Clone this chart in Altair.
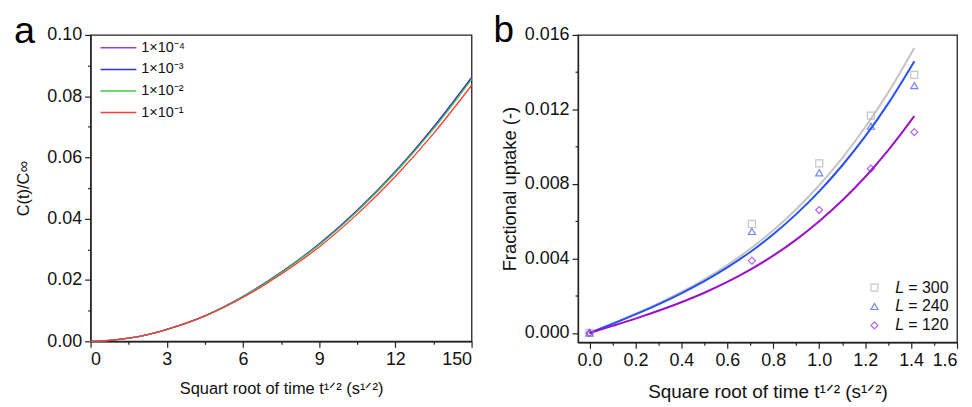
import altair as alt
import pandas as pd

# ---------------- Panel a data ----------------
a_x = [0, 0.75, 1.5, 2.25, 3, 4.5, 6, 7.5, 9, 10.5, 12, 13.5, 15]
a_1e4 = [0, 0.00027, 0.00102, 0.0022, 0.0039, 0.0083, 0.0146, 0.0225, 0.0318, 0.0428, 0.0555, 0.0700, 0.0862]
a_1e3 = [0, 0.00027, 0.00102, 0.0022, 0.0039, 0.0083, 0.0146, 0.0225, 0.0317, 0.0427, 0.0553, 0.0698, 0.0860]
a_1e2 = [0, 0.00027, 0.00102, 0.0022, 0.0039, 0.0083, 0.0145, 0.0224, 0.0315, 0.0424, 0.0550, 0.0693, 0.0855]
a_1e1 = [0, 0.00027, 0.00101, 0.0022, 0.0038, 0.0082, 0.0143, 0.0219, 0.0308, 0.0415, 0.0538, 0.0678, 0.0835]
a_names = ["1×10⁻⁴", "1×10⁻³", "1×10⁻²", "1×10⁻¹"]
a_colors = ["#9440f0", "#3030d8", "#40c840", "#ff3a3a"]

# ---------------- Panel b data ----------------
b_pts_x = [0, 0.707, 1.0, 1.225, 1.414]
b_L300 = [0, 0.00585, 0.0091, 0.01167, 0.01385]
b_L240 = [0, 0.00545, 0.0086, 0.0111, 0.01328]
b_L120 = [0, 0.00388, 0.0066, 0.00882, 0.01078]

b_fit_x = [0, 0.1, 0.2, 0.3, 0.4, 0.5, 0.6, 0.7, 0.8, 0.9, 1.0, 1.1, 1.2, 1.3, 1.414]
b_fit300 = [0, 0.00051, 0.00103, 0.00159, 0.0022, 0.00288, 0.00365, 0.00452, 0.00551, 0.00664, 0.00793, 0.00939, 0.01104, 0.0129, 0.0153]
b_fit240 = [0, 0.00049, 0.0010, 0.00154, 0.00213, 0.00278, 0.00352, 0.00435, 0.0053, 0.00638, 0.0076, 0.00899, 0.01055, 0.01231, 0.01458]
b_fit120 = [0, 0.00038, 0.00077, 0.00119, 0.00165, 0.00216, 0.00274, 0.0034, 0.00415, 0.00501, 0.0060, 0.00711, 0.00837, 0.0098, 0.01164]
b_names = ["300", "240", "120"]
b_line_colors = ["#c4c4c4", "#2451f5", "#9a10c8"]
b_pt_colors = ["#b0b0b0", "#3a50ff", "#a020e0"]
b_shapes = ["square", "triangle-up", "diamond"]

FONT = "Liberation Sans"

# ---------------- build tables ----------------
rows = []
for name, ys in zip(a_names, [a_1e4, a_1e3, a_1e2, a_1e1]):
    for x, y in zip(a_x, ys):
        rows.append({"x": x, "y": y, "series": name})
df_a = pd.DataFrame(rows)

pts = []
for name, ys in zip(b_names, [b_L300, b_L240, b_L120]):
    for x, y in zip(b_pts_x, ys):
        pts.append({"x": x, "y": y, "series": name})
df_bp = pd.DataFrame(pts)

fits = []
for name, ys in zip(b_names, [b_fit300, b_fit240, b_fit120]):
    for x, y in zip(b_fit_x, ys):
        fits.append({"x": x, "y": y, "series": name})
df_bf = pd.DataFrame(fits)


def axis(values, major_test, label_expr, title, title_padding, **kw):
    return alt.Axis(
        values=values,
        labelExpr=label_expr,
        tickSize={"condition": {"test": major_test, "value": 6}, "value": 3},
        title=title,
        titlePadding=title_padding,
        grid=False,
        **kw,
    )


one = pd.DataFrame({"k": [0]})

# ---------------- Panel a ----------------
ax_vals = [i * 1.5 for i in range(11)]
ay_vals = [round(i * 0.01, 2) for i in range(11)]

xa = alt.X(
    "x:Q",
    scale=alt.Scale(domain=[0, 15], nice=False),
    axis=axis(ax_vals, "datum.value % 3 == 0",
              "datum.value == 15 ? '150' : (datum.value % 3 == 0 ? format(datum.value, 'd') : '')",
              "Squart root of time t¹ᐟ² (s¹ᐟ²)", 12, titleFontSize=16.5),
)
ya = alt.Y(
    "y:Q",
    scale=alt.Scale(domain=[0, 0.1], nice=False),
    axis=axis(ay_vals, "round(datum.value * 100) % 2 == 0",
              "round(datum.value * 100) % 2 == 0 ? format(datum.value, '.2f') : ''",
              "C(t)/C∞", 15, titleFontSize=16.5),
)

lines_a = alt.Chart(df_a).mark_line(strokeWidth=1.3, interpolate="monotone").encode(
    x=xa,
    y=ya,
    color=alt.Color("series:N", scale=alt.Scale(domain=a_names, range=a_colors), legend=None),
    order=alt.Order("order:Q"),
).transform_calculate(
    order="indexof(['1×10⁻¹','1×10⁻²','1×10⁻³','1×10⁻⁴'], datum.series)"
)

legend_a = []
for i, (name, col) in enumerate(zip(a_names, a_colors)):
    yy = 13 + 21.7 * i
    legend_a.append(
        alt.Chart(one).mark_rule(color=col, strokeWidth=1.5).encode(
            x=alt.value(10), x2=alt.value(46), y=alt.value(yy)
        )
    )
    legend_a.append(
        alt.Chart(one).mark_text(
            text=name, font=FONT, fontSize=14.5, align="left", baseline="middle", color="#111111"
        ).encode(x=alt.value(51), y=alt.value(yy))
    )

letter_a = alt.Chart(one).mark_text(
    text="a", fontSize=38, font=FONT, align="left", baseline="alphabetic"
).encode(x=alt.value(-77), y=alt.value(8))

panel_a = alt.layer(lines_a, *legend_a, letter_a).properties(width=383, height=308)

# ---------------- Panel b ----------------
bx_vals = [round(i * 0.1, 1) for i in range(17)]
by_vals = [round(i * 0.002, 3) for i in range(9)]

xb = alt.X(
    "x:Q",
    scale=alt.Scale(domain=[-0.05, 1.6], nice=False),
    axis=axis(bx_vals, "round(datum.value * 10) % 2 == 0",
              "round(datum.value * 10) % 2 == 0 ? format(datum.value, '.1f') : ''",
              "Square root of time  t¹ᐟ²  (s¹ᐟ²)", 14, titleFontSize=19),
)
yb = alt.Y(
    "y:Q",
    scale=alt.Scale(domain=[-0.0005, 0.016], nice=False),
    axis=axis(by_vals, "round(datum.value * 1000) % 4 == 0",
              "round(datum.value * 1000) % 4 == 0 ? format(datum.value, '.3f') : ''",
              "Fractional uptake (-)", 5, titleFontSize=18.5),
)

fit_b = alt.Chart(df_bf).mark_line(strokeWidth=2, interpolate="monotone").encode(
    x=xb,
    y=yb,
    stroke=alt.Stroke("series:N", scale=alt.Scale(domain=b_names, range=b_line_colors), legend=None),
)

pts_b = alt.Chart(df_bp).mark_point(filled=False, size=50, strokeWidth=1.2).encode(
    x=xb,
    y=yb,
    color=alt.Color("series:N", scale=alt.Scale(domain=b_names, range=b_pt_colors), legend=None),
    shape=alt.Shape("series:N", scale=alt.Scale(domain=b_names, range=b_shapes), legend=None),
)

legend_b = []
for i, (name, col, shp) in enumerate(zip(b_names, b_pt_colors, b_shapes)):
    yy = 254 + 19 * i
    legend_b.append(
        alt.Chart(one).mark_point(
            shape=shp, filled=False, size=50, strokeWidth=1.2, color=col
        ).encode(x=alt.value(298), y=alt.value(yy))
    )
    legend_b.append(
        alt.Chart(one).mark_text(
            text="L", font=FONT, fontSize=16, fontStyle="italic", align="left",
            baseline="middle", color="#111111"
        ).encode(x=alt.value(319), y=alt.value(yy))
    )
    legend_b.append(
        alt.Chart(one).mark_text(
            text="= " + name, font=FONT, fontSize=16, align="left",
            baseline="middle", color="#111111"
        ).encode(x=alt.value(332), y=alt.value(yy))
    )

letter_b = alt.Chart(one).mark_text(
    text="b", fontSize=37, font=FONT, align="left", baseline="alphabetic"
).encode(x=alt.value(-85), y=alt.value(7))

panel_b = alt.layer(fit_b, pts_b, *legend_b, letter_b).resolve_scale(
    color="independent"
).properties(width=381, height=309)

chart = alt.hconcat(panel_a, panel_b, spacing=17).resolve_scale(
    color="independent", shape="independent", stroke="independent"
).properties(
    padding={"top": 2, "left": 5, "right": 5, "bottom": 0}
).configure_view(
    stroke="#222222", strokeWidth=1.3
).configure_axis(
    domainColor="#222222", domainWidth=1.3, tickColor="#222222", tickWidth=1.2,
    labelFont=FONT, labelFontSize=18, labelColor="#111111", labelPadding=3,
    titleFont=FONT, titleFontWeight="normal", titleColor="#111111",
)

chart.save("out.html", embed_options={"renderer": "svg", "actions": False})
